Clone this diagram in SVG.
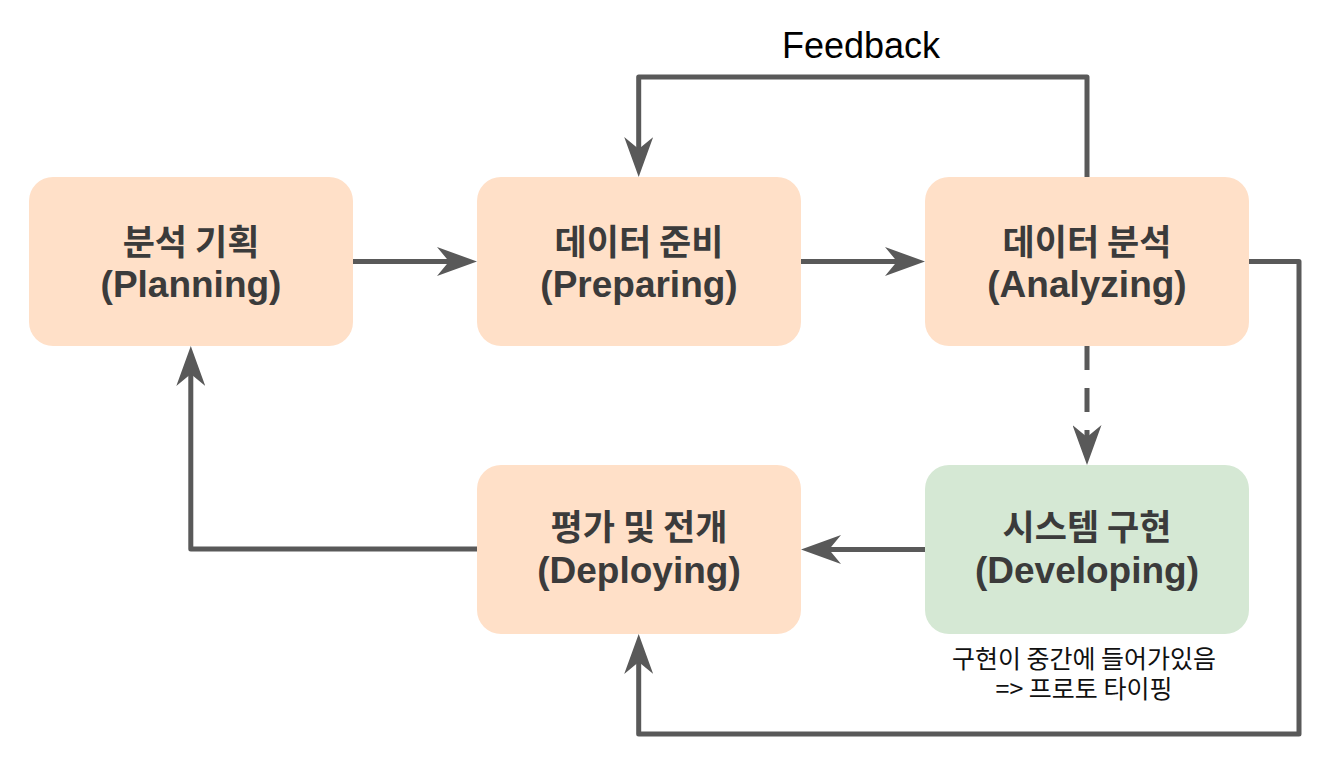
<svg xmlns="http://www.w3.org/2000/svg" width="1341" height="775" viewBox="0 0 1341 775">
  <style>
    .box { fill: #FFE0C8; }
    .green { fill: #D5E8D4; }
    .ko { font-family: "Noto Sans CJK KR", sans-serif; font-weight: 700; font-size: 35px; fill: #3B3B3B; text-anchor: middle; }
    .en { font-family: "Liberation Sans", Arial, sans-serif; font-weight: 700; font-size: 37px; fill: #3B3B3B; text-anchor: middle; }
    .lbl { font-family: "Liberation Sans", Arial, sans-serif; font-size: 36px; fill: #000; text-anchor: middle; }
    .note { font-family: "Noto Sans CJK KR", sans-serif; font-size: 25px; fill: #111; text-anchor: middle; }
    .conn { fill: none; stroke: #595959; stroke-width: 5; stroke-linejoin: round; marker-end: url(#arrow); }
    .dash { stroke-dasharray: 24 18; }
  </style>
  <defs>
    <marker id="arrow" markerUnits="userSpaceOnUse" markerWidth="40" markerHeight="29" viewBox="0 0 40 29" refX="12" refY="14.5" orient="auto">
      <path d="M0,0 L40,14.5 L0,29 L12,14.5 Z" fill="#595959"/>
    </marker>
  </defs>
  <rect width="1341" height="775" fill="#FFFFFF"/>

  <g id="connectors">
    <path class="conn" d="M353,261.5 H449"/>
    <path class="conn" d="M801,261.5 H897"/>
    <path class="conn" d="M1087,177 V77 H638.7 V149"/>
    <path class="conn dash" d="M1087,346 V437"/>
    <path class="conn" d="M925,549.5 H829"/>
    <path class="conn" d="M477,549 H190.8 V374"/>
    <path class="conn" d="M1249,261.5 H1299 V734 H638.7 V662"/>
  </g>

  <text class="lbl" x="861" y="58">Feedback</text>

  <g id="planning">
    <rect class="box" x="29" y="177" width="324" height="169" rx="24"/>
    <text class="ko" x="191" y="255">분석 기획</text>
    <text class="en" x="191" y="297">(Planning)</text>
  </g>
  <g id="preparing">
    <rect class="box" x="477" y="177" width="324" height="169" rx="24"/>
    <text class="ko" x="639" y="255">데이터 준비</text>
    <text class="en" x="639" y="297">(Preparing)</text>
  </g>
  <g id="analyzing">
    <rect class="box" x="925" y="177" width="324" height="169" rx="24"/>
    <text class="ko" x="1087" y="255">데이터 분석</text>
    <text class="en" x="1087" y="297">(Analyzing)</text>
  </g>
  <g id="deploying">
    <rect class="box" x="477" y="465" width="324" height="169" rx="24"/>
    <text class="ko" x="639" y="540">평가 및 전개</text>
    <text class="en" x="639" y="583">(Deploying)</text>
  </g>
  <g id="developing">
    <rect class="green" x="925" y="465" width="324" height="169" rx="24"/>
    <text class="ko" x="1087" y="540">시스템 구현</text>
    <text class="en" x="1087" y="583">(Developing)</text>
  </g>

  <g id="note">
    <text class="note" x="1084" y="668">구현이 중간에 들어가있음</text>
    <text class="note" x="1084" y="698">=&gt; 프로토 타이핑</text>
  </g>
</svg>
